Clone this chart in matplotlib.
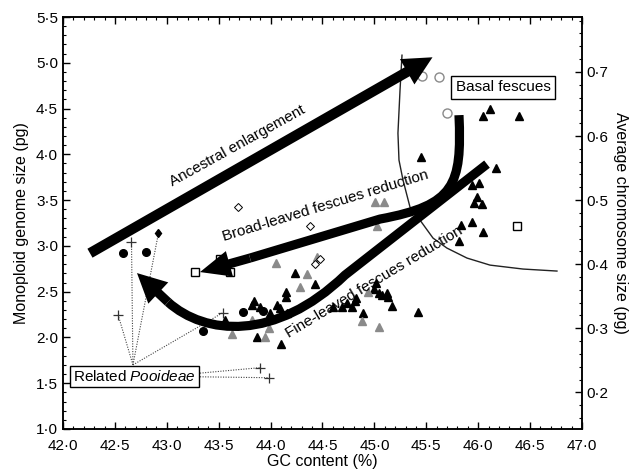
import matplotlib
matplotlib.use("Agg")
import matplotlib.pyplot as plt
from matplotlib.patches import FancyArrowPatch, PathPatch
from matplotlib.path import Path
from matplotlib.ticker import MultipleLocator, FuncFormatter

plt.rcParams["font.family"] = ["Liberation Sans", "DejaVu Sans"]
plt.rcParams["mathtext.fontset"] = "custom"
plt.rcParams["mathtext.rm"] = "Liberation Sans"
plt.rcParams["mathtext.it"] = "Liberation Sans:italic"

# fine-leaved fescues (black) and related taxa (grey triangles)
tri_black_x = [46.05, 46.11, 46.39, 45.45, 46.17, 45.94, 46.01, 45.99, 45.96, 46.04,
               45.83, 45.94, 46.05, 45.82,
               45.02, 45.00, 45.04, 45.07, 45.12, 45.13, 45.17, 45.42, 44.89, 44.60,
               44.69, 44.74, 44.78, 44.81, 44.82,
               44.24, 44.43, 44.15, 44.15, 43.84, 43.82, 43.90, 44.06, 44.09, 43.99,
               44.16, 43.56, 43.87, 44.10]
tri_black_y = [4.42, 4.49, 4.42, 3.97, 3.85, 3.67, 3.69, 3.53, 3.47, 3.46,
               3.23, 3.26, 3.15, 3.05,
               2.60, 2.53, 2.48, 2.46, 2.48, 2.44, 2.34, 2.28, 2.27, 2.33,
               2.33, 2.38, 2.33, 2.40, 2.43,
               2.70, 2.58, 2.50, 2.44, 2.40, 2.35, 2.33, 2.35, 2.32, 2.27,
               2.27, 2.19, 2.00, 1.93]
tri_grey_x = [45.01, 45.09, 45.03, 44.94, 44.88, 45.04, 44.35, 44.05, 44.28, 43.82,
              43.63, 43.95, 43.98, 44.45]
tri_grey_y = [3.48, 3.48, 3.22, 2.50, 2.18, 2.11, 2.69, 2.81, 2.55, 2.19,
              2.04, 2.00, 2.10, 2.88]
circ_black_x = [42.58, 42.80, 43.35, 43.73, 43.93]
circ_black_y = [2.92, 2.93, 2.07, 2.28, 2.29]
circ_open_x = [45.46, 45.62, 45.70]
circ_open_y = [4.86, 4.84, 4.45]
square_x = [43.27, 43.51, 43.61, 46.37]
square_y = [2.71, 2.86, 2.71, 3.22]
diamond_x = [43.69, 44.38, 44.43, 44.48]
diamond_y = [3.43, 3.22, 2.80, 2.86]
cross_x = [42.66, 42.53, 43.54, 43.90, 43.98]
cross_y = [3.04, 2.25, 2.27, 1.67, 1.56]
diamond_black_x = [42.92]
diamond_black_y = [3.14]

# dotted connectors from the "Related Pooideae" label
fan_origin = (42.674, 1.70)
fan_targets = [(42.53, 2.25), (42.66, 3.04), (42.92, 3.14), (43.54, 2.27)]
side_lines = [((43.32, 1.61), (43.90, 1.67)), ((43.32, 1.57), (43.98, 1.56))]

# thin boundary curve
curve_x = [45.266, 45.247, 45.227, 45.237, 45.276, 45.343, 45.439, 45.565, 45.699,
           45.892, 46.114, 46.432, 46.759]
curve_y = [5.083, 4.701, 4.231, 3.937, 3.718, 3.424, 3.282, 3.085, 2.976,
           2.867, 2.790, 2.747, 2.725]

# thick arrows: start, bezier control points, end of body, head tip
ancestral_start = (42.26, 2.92)
ancestral_tip = (45.56, 5.06)

broad_path = [(45.815, 4.428), (45.844, 3.664), (45.776, 3.445), (45.054, 3.293),
              (43.802, 2.867)]
broad_codes = [Path.MOVETO, Path.CURVE4, Path.CURVE4, Path.CURVE4, Path.LINETO]
broad_tip = (43.32, 2.714)

fine_path = [(46.085, 3.893), (44.717, 2.681), (44.042, 1.950), (43.368, 2.026),
             (43.012, 2.386)]
fine_codes = [Path.MOVETO, Path.LINETO, Path.CURVE4, Path.CURVE4, Path.CURVE4]
fine_tip = (42.713, 2.703)

GREY = "#8a8a8a"


def dot_fmt(v, pos):
    return f"{v:.1f}".replace(".", "\u00b7")


fig = plt.figure(figsize=(6.33, 4.71), dpi=100)
ax = fig.add_axes([0.0995, 0.0892, 0.8199, 0.8747])

ax.plot(tri_black_x, tri_black_y, "^", color="black", ms=5.5, ls="none", zorder=3)
ax.plot(tri_grey_x, tri_grey_y, "^", color=GREY, ms=5.5, ls="none", zorder=3)
ax.plot(circ_black_x, circ_black_y, "o", color="black", ms=5.5, ls="none", zorder=3)
ax.plot(circ_open_x, circ_open_y, "o", mfc="white", mec=GREY, mew=1.0, ms=6.5,
        ls="none", zorder=3)
ax.plot(square_x, square_y, "s", mfc="white", mec="black", mew=1.0, ms=6,
        ls="none", zorder=3)
ax.plot(diamond_x, diamond_y, "D", mfc="white", mec="black", mew=0.7, ms=4,
        ls="none", zorder=3)
ax.plot(cross_x, cross_y, "+", color="#333333", mew=0.9, ms=6.5, ls="none", zorder=3)
ax.plot(diamond_black_x, diamond_black_y, "d", color="black", ms=4.5, ls="none", zorder=3)

dots = dict(color="#444444", lw=0.8, ls=(0, (1, 1.3)), zorder=2)
for tx, ty in fan_targets:
    ax.plot([fan_origin[0], tx], [fan_origin[1], ty], **dots)
for (x0, y0), (x1, y1) in side_lines:
    ax.plot([x0, x1], [y0, y1], **dots)

ax.plot(curve_x, curve_y, color="#222222", lw=1.0, zorder=2)


def head(start, tip, width, length, head_w):
    style = f"simple,head_length={length},head_width={head_w},tail_width={width}"
    ax.add_patch(FancyArrowPatch(start, tip, arrowstyle=style, mutation_scale=1,
                                 shrinkA=0, shrinkB=0, fc="black", ec="none",
                                 zorder=4))


head(ancestral_start, ancestral_tip, 7.4, 21, 21)

ax.add_patch(PathPatch(Path(broad_path, broad_codes), fill=False, ec="black",
                       lw=6.6, capstyle="butt", joinstyle="round", zorder=4))
head(broad_path[-1], broad_tip, 6.6, 22, 19)

ax.add_patch(PathPatch(Path(fine_path, fine_codes), fill=False, ec="black",
                       lw=6.6, capstyle="butt", joinstyle="round", zorder=4))
head(fine_path[-1], fine_tip, 6.6, 21, 21)

# annotations
ax.text(43.676, 4.09, "Ancestral enlargement", rotation=29, fontsize=11,
        ha="center", va="center", rotation_mode="anchor", zorder=5)
ax.text(44.53, 3.44, "Broad-leaved fescues reduction", rotation=17, fontsize=11,
        ha="center", va="center", rotation_mode="anchor", zorder=5)
ax.text(45.00, 2.60, "Fine-leaved fescues reduction", rotation=31, fontsize=11,
        ha="center", va="center", rotation_mode="anchor", zorder=5)
box = dict(boxstyle="square,pad=0.3", fc="white", ec="black", lw=1.0)
ax.text(46.24, 4.73, "Basal fescues", fontsize=11, ha="center", va="center",
        bbox=box, zorder=5)
box2 = dict(boxstyle="square,pad=0.2", fc="white", ec="black", lw=1.0)
ax.text(42.69, 1.573, "Related $\\mathit{Pooideae}$", fontsize=11, ha="center",
        va="center", bbox=box2, zorder=5)

# axes
ax.set_xlim(42.0, 47.0)
ax.set_ylim(1.0, 5.5)
ax.xaxis.set_major_locator(MultipleLocator(0.5))
ax.xaxis.set_minor_locator(MultipleLocator(0.1))
ax.yaxis.set_major_locator(MultipleLocator(0.5))
ax.yaxis.set_minor_locator(MultipleLocator(0.1))
ax.xaxis.set_major_formatter(FuncFormatter(dot_fmt))
ax.yaxis.set_major_formatter(FuncFormatter(dot_fmt))
ax.tick_params(which="both", direction="in", top=True, right=False, labelsize=11)
ax.tick_params(which="major", length=5, width=1)
ax.tick_params(which="minor", length=2.5, width=0.8)
ax.tick_params(axis="x", which="major", pad=7)
ax.set_xlabel("GC content (%)", fontsize=11.5, labelpad=1)
ax.set_ylabel("Monoploid genome size (pg)", fontsize=11.5, labelpad=5)
for s in ax.spines.values():
    s.set_linewidth(1.1)

ax2 = ax.twinx()
ax2.set_ylim(1.0 / 7, 5.5 / 7)
ax2.yaxis.set_major_locator(MultipleLocator(0.1))
ax2.yaxis.set_minor_locator(MultipleLocator(0.02))
ax2.yaxis.set_major_formatter(FuncFormatter(dot_fmt))
ax2.tick_params(which="both", direction="in", labelsize=11)
ax2.tick_params(which="major", length=5, width=1)
ax2.tick_params(which="minor", length=2.5, width=0.8)
ax2.set_ylabel("Average chromosome size (pg)", fontsize=11.5, rotation=270, labelpad=14)
for s in ax2.spines.values():
    s.set_linewidth(1.1)

fig.savefig("out.png", dpi=100)
